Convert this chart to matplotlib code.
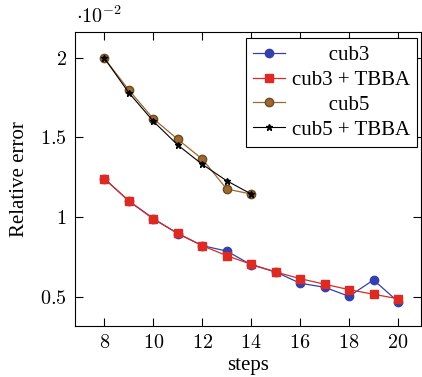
import numpy as np
import matplotlib.pyplot as plt

plt.rcParams['font.family'] = 'serif'
plt.rcParams['font.serif'] = ['Liberation Serif', 'DejaVu Serif']
plt.rcParams['mathtext.fontset'] = 'cm'

# values in units of 1e-2
steps3 = np.arange(8, 21)
cub3 = [1.24, 1.10, 0.99, 0.895, 0.82, 0.786, 0.70, 0.655, 0.584, 0.559, 0.502, 0.605, 0.469]
cub3_tbba = [1.24, 1.10, 0.987, 0.897, 0.82, 0.757, 0.703, 0.655, 0.613, 0.578, 0.544, 0.515, 0.487]
steps5 = np.arange(8, 15)
cub5 = [1.995, 1.796, 1.616, 1.487, 1.363, 1.175, 1.144]
cub5_tbba = [1.995, 1.779, 1.600, 1.451, 1.330, 1.227, 1.144]

xticks = [8, 10, 12, 14, 16, 18, 20]
yticks = [0.5, 1, 1.5, 2]


def main():
    fig = plt.figure(figsize=(4.22, 3.77), dpi=100)
    ax = fig.add_axes([0.178, 0.1366, 0.819, 0.7774])

    ax.plot(steps3, cub3, color='#3340ad', lw=0.9, marker='o', ms=6,
            label='       cub3')
    ax.plot(steps3, cub3_tbba, color='#dd2a22', lw=0.9, marker='s', ms=6,
            label='cub3 + TBBA')
    ax.plot(steps5, cub5, color='#9c6a30', lw=0.9, marker='o', ms=6,
            mec='#6e4a20', label='       cub5')
    ax.plot(steps5, cub5_tbba, color='black', lw=0.8, marker='*', ms=5,
            label='cub5 + TBBA')

    ax.set_xlim(6.8, 20.93)
    ax.set_ylim(0.319, 2.158)
    ax.set_xticks(xticks)
    ax.set_yticks(yticks)
    ax.set_xticklabels(['$%d$' % t for t in xticks])
    ax.set_yticklabels(['$0.5$', '$1$', '$1.5$', '$2$'])
    ax.tick_params(direction='in', length=6, width=0.8, top=True, right=True,
                   labelsize=14.5, pad=6)
    for s in ax.spines.values():
        s.set_linewidth(0.8)

    ax.set_xlabel('steps', fontsize=15, labelpad=2)
    ax.set_ylabel('Relative error', fontsize=15, labelpad=8)
    fig.text(0.18, 0.953, r'$\cdot 10^{-2}$', fontsize=14.5, va='center')

    leg = ax.legend(loc='upper right', bbox_to_anchor=(0.99, 0.98),
                    fontsize=15, fancybox=False, edgecolor='black',
                    framealpha=1, borderpad=0.35, labelspacing=0.25,
                    handlelength=1.5, handletextpad=0.35, borderaxespad=0)
    leg.get_frame().set_linewidth(0.8)

    fig.savefig('out.png', dpi=100)


if __name__ == "__main__":
    main()
